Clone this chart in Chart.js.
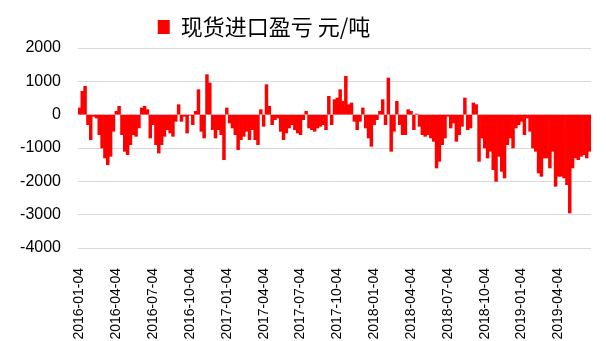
<!DOCTYPE html>
<html>
<head>
<meta charset="utf-8">
<script src="https://cdn.jsdelivr.net/npm/chart.js@4/dist/chart.umd.min.js"></script>
<style>
html, body { margin: 0; padding: 0; background: #fff; }
#wrap { width: 606px; height: 341px; }
</style>
</head>
<body>
<div id="wrap"><canvas id="chart"></canvas></div>
<script>
const seriesName = '现货进口盈亏 元/吨';

// one tick label every 13 weeks
const quarterLabels = [
    '2016-01-04', '2016-04-04', '2016-07-04', '2016-10-04',
    '2017-01-04', '2017-04-04', '2017-07-04', '2017-10-04',
    '2018-01-04', '2018-04-04', '2018-07-04', '2018-10-04',
    '2019-01-04', '2019-04-04'
];
const weeksPerQuarter = 13;

// weekly values, 2016-01 .. 2019-06
const weeklyValues = [
    200, 700, 850, -300, -750, -50, -100, -600, -1000, -1300,
    -1500, -1250, -500, 100, 250, -600, -1100, -1200, -900, -600,
    -650, -400, 200, 250, 150, -700, -300, -900, -1150, -900,
    -650, -450, -550, -650, -200, 300, -200, -50, -550, -20,
    -300, 100, 750, -500, -700, 1200, 950, -450, -700, -450,
    -600, -1350, 200, -250, -400, -600, -1050, -750, -650, -500,
    -750, -450, -750, -900, 150, -350, 900, 250, -300, -150,
    -100, -500, -750, -550, -400, -300, -450, -550, -600, -150,
    100, -400, -450, -500, -400, -350, -300, -450, 550, -300,
    450, 500, 750, 400, 1150, 300, 350, -200, -450, -200,
    200, -400, -700, -950, -300, -150, 100, 450, -300, 1100,
    -1100, -500, 400, -300, -600, -600, 150, 100, -450, 20,
    -350, -600, -650, -600, -700, -800, -1600, -1400, -900, -700,
    -50, -400, -250, -800, -600, -350, 500, -450, -400, 350,
    300, -1400, -700, -1000, -1300, -1100, -1650, -2000, -1250, -1700,
    -1900, -900, -700, -1000, -400, -300, -200, -600, -100, -500,
    -1000, -1100, -1750, -1850, -1300, -1300, -1600, -1100, -2150, -1850,
    -1850, -1900, -2100, -2950, -1600, -1300, -1350, -1250, -1200, -1300,
    -1100
];
const weekIndex = weeklyValues.map((v, i) => i);

// Excel puts the legend a bit left of the page centre
const shiftLegend = {
    id: 'shiftLegend',
    afterLayout(chart) {
        chart.legend.left = 0;
        chart.legend.right = 528;
    }
};

const ctx = document.getElementById('chart').getContext('2d');
const chart = new Chart(ctx, {
    type: 'bar',
    data: {
        labels: weekIndex,
        datasets: [{
            label: seriesName,
            data: weeklyValues,
            backgroundColor: '#ff0000',
            borderWidth: 0,
            barPercentage: 1,
            categoryPercentage: 1
        }]
    },
    options: {
        responsive: true,
        maintainAspectRatio: false,
        animation: false,
        layout: {
            padding: { left: 0, right: 15, top: 12, bottom: 0 }
        },
        plugins: {
            legend: {
                position: 'top',
                labels: {
                    boxWidth: 12,
                    boxHeight: 14,
                    padding: 4,
                    color: '#000',
                    font: { family: '"Noto Sans CJK SC", sans-serif', size: 22, lineHeight: 1 }
                }
            },
            tooltip: { enabled: false }
        },
        scales: {
            x: {
                grid: { display: false },
                border: { display: false },
                afterFit: scale => { scale.height = 93; },
                ticks: {
                    autoSkip: false,
                    maxRotation: 90,
                    minRotation: 90,
                    padding: 12,
                    color: '#000',
                    font: { family: '"Liberation Sans", Arial, sans-serif', size: 14 },
                    callback: function (value, index) {
                        if (index % weeksPerQuarter !== 0) return null;
                        return quarterLabels[index / weeksPerQuarter] || null;
                    }
                }
            },
            y: {
                min: -4000,
                max: 2000,
                grid: { color: '#d9d9d9', drawTicks: false },
                border: { display: false },
                afterFit: scale => { scale.width = 78; },
                ticks: {
                    stepSize: 1000,
                    padding: 17,
                    color: '#000',
                    font: { family: '"Liberation Sans", Arial, sans-serif', size: 16 },
                    callback: value => String(value)
                }
            }
        }
    },
    plugins: [shiftLegend]
});
</script>
</body>
</html>
